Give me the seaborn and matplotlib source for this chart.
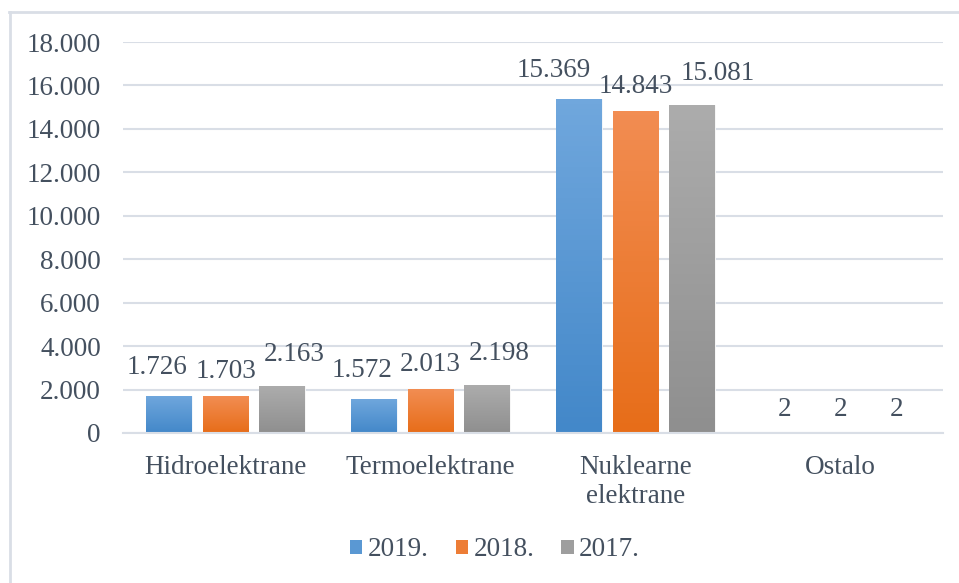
import numpy as np
import pandas as pd
import seaborn as sns
import matplotlib.pyplot as plt
from matplotlib.colors import LinearSegmentedColormap, to_rgb
from matplotlib.lines import Line2D
from matplotlib.patches import Patch

# data
categories = ['Hidroelektrane', 'Termoelektrane', 'Nuklearne\nelektrane', 'Ostalo']
years = ['2019.', '2018.', '2017.']
v2019 = [1726, 1572, 15369, 2]
v2018 = [1703, 2013, 14843, 2]
v2017 = [2163, 2198, 15081, 2]

# gradient colours (top, bottom) per series
grad = {'2019.': ('#70A7DD', '#4388C9'),
        '2018.': ('#F28D52', '#E76D19'),
        '2017.': ('#ACACAC', '#8F8F8F')}
mid = {k: tuple((np.array(to_rgb(a)) + np.array(to_rgb(b))) / 2) for k, (a, b) in grad.items()}

df = pd.DataFrame({
    'kat': categories * 3,
    'god': [y for y in years for _ in categories],
    'val': v2019 + v2018 + v2017,
})

txt = '#44505F'
grid_c = '#D9DEE6'
fs = 19.5
plt.rcParams['font.family'] = 'serif'
plt.rcParams['font.serif'] = ['Liberation Serif', 'DejaVu Serif']
plt.rcParams['font.size'] = fs

fig = plt.figure(figsize=(9.59, 5.83), dpi=100)
ax = fig.add_axes([123 / 959, 150 / 583, 820 / 959, 391 / 583])

sns.barplot(data=df, x='kat', y='val', hue='god', order=categories, hue_order=years,
            palette=[mid[y] for y in years], width=0.82, gap=0.18, ax=ax,
            legend=False, edgecolor='white', linewidth=0.6)

# excel-like vertical gradient on each bar
for cont, yr in zip(ax.containers, years):
    cmap = LinearSegmentedColormap.from_list(yr, [grad[yr][1], grad[yr][0]])
    for p in cont.patches:
        x, w, h = p.get_x(), p.get_width(), p.get_height()
        if h <= 0:
            continue
        im = ax.imshow(np.linspace(0, 1, 64).reshape(-1, 1), cmap=cmap, origin='lower',
                       extent=[x, x + w, 0, h], aspect='auto', zorder=p.get_zorder() + 0.1)
        im.set_clip_path(p)
ax.set_xlim(-0.5, 3.5)
ax.set_ylim(0, 18000)

# data labels, staggered a bit like excel does when they collide
rise = [22, 18, 25]  # px above bar top, per series
labels = {}
for j, cont in enumerate(ax.containers):
    for i, p in enumerate(cont.patches):
        s = f'{cont.datavalues[i]:,.0f}'.replace(',', '.')
        labels[(i, j)] = ax.annotate(s, (p.get_x() + p.get_width() / 2, p.get_height()),
                                     xytext=(0, 17), textcoords='offset pixels',
                                     ha='center', va='baseline', color=txt, fontsize=fs)

fig.canvas.draw()
r = fig.canvas.get_renderer()
for i in range(len(categories)):
    lb, m, rb = [labels[(i, j)].get_window_extent(r) for j in range(3)]
    need_l = lb.x1 - (m.x0 - 8)
    need_r = (m.x1 + 8) - rb.x0
    if need_l <= 0 and need_r <= 0:
        continue
    labels[(i, 0)].xyann = (-max(need_l, 0), rise[0])
    labels[(i, 1)].xyann = (0, rise[1])
    labels[(i, 2)].xyann = (max(need_r, 0), rise[2])

ax.set_yticks(np.arange(0, 18001, 2000))
ax.set_yticklabels([f'{t:,.0f}'.replace(',', '.') for t in np.arange(0, 18001, 2000)])
ax.yaxis.grid(True, color=grid_c, linewidth=1.5)
ax.set_axisbelow(True)
ax.tick_params(axis='y', length=0, pad=16, colors=txt)
ax.tick_params(axis='x', length=0, pad=16, colors=txt)
for t in ax.get_xticklabels():
    t.set_linespacing(1.22)
ax.set_xlabel('')
ax.set_ylabel('')
for s in ['top', 'right', 'left']:
    ax.spines[s].set_visible(False)
ax.spines['bottom'].set_color(grid_c)
ax.spines['bottom'].set_linewidth(1.5)

handles = [Patch(facecolor=mid[y], edgecolor='none') for y in years]
fig.legend(handles, years, loc='center', bbox_to_anchor=(495 / 959, 1 - 550 / 583), ncol=3,
           frameon=False, handlelength=0.45, handleheight=0.45, handletextpad=0.2,
           columnspacing=1.0, labelcolor=txt, fontsize=fs)

# chart frame (only top and left edges show in the crop)
fig.add_artist(Line2D([9 / 959, 1], [1 - 12 / 583] * 2, color=grid_c, lw=2))
fig.add_artist(Line2D([10 / 959] * 2, [0, 1 - 12 / 583], color=grid_c, lw=2))

fig.savefig('out.png', dpi=100)
